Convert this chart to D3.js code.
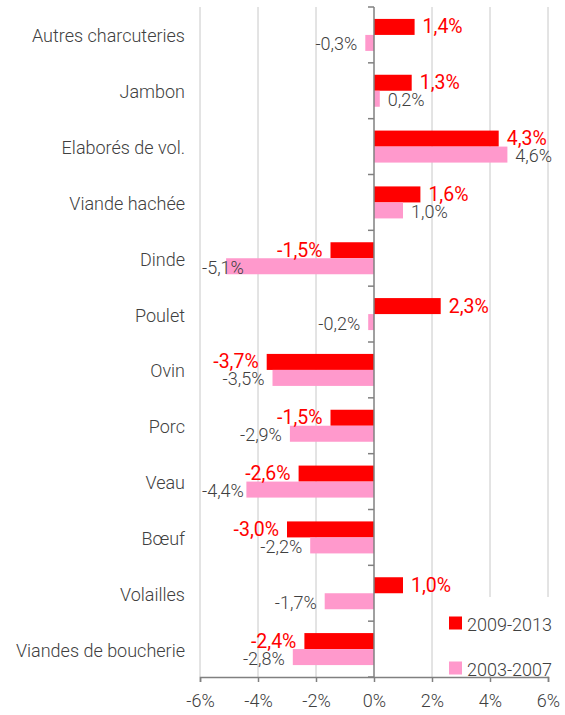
<!DOCTYPE html>
<html><head><meta charset="utf-8">
<script src="https://cdn.jsdelivr.net/npm/d3@7"></script>
<style>
body{margin:0;background:#fff;}
text{font-family:Roboto, "Noto Sans", sans-serif;font-weight:300;}
</style></head>
<body><svg id="c" width="565" height="715"></svg>
<script>
const categories = ["Autres charcuteries","Jambon","Elaborés de vol.","Viande hachée","Dinde","Poulet","Ovin","Porc","Veau","Bœuf","Volailles","Viandes de boucherie"];
const series2009 = [1.4,1.3,4.3,1.6,-1.5,2.3,-3.7,-1.5,-2.6,-3.0,1.0,-2.4];
const series2003 = [-0.3,0.2,4.6,1.0,-5.1,-0.2,-3.5,-2.9,-4.4,-2.2,-1.7,-2.8];
const seriesNames = ["2009-2013","2003-2007"];
const xTicks = [-6,-4,-2,0,2,4,6];

const svg = d3.select("#c");
const L=200, R=548, T=7, B=677;
const x = d3.scaleLinear().domain([-6,6]).range([L,R]);
const y = d3.scaleBand().domain(categories).range([T,B]);
const bw = 16;
const fmt = v => d3.format(".1f")(v).replace(".",",").replace("−","-")+"%";

// gridlines
svg.append("g").selectAll("line").data(xTicks.filter(d=>d!==0)).join("line")
  .attr("x1",d=>x(d)).attr("x2",d=>x(d)).attr("y1",T).attr("y2",B)
  .attr("stroke","#c8c8c8").attr("stroke-width",1);

// legend background (hides gridlines)
svg.append("rect").attr("x",440).attr("y",597).attr("width",125).attr("height",B-597-1).attr("fill","#fff");

// bars
const rows = categories.map((c,i)=>({c, a:series2009[i], b:series2003[i]}));
const g = svg.append("g");
g.selectAll(".ra").data(rows).join("rect")
  .attr("x",d=>x(Math.min(0,d.a))).attr("width",d=>Math.abs(x(d.a)-x(0)))
  .attr("y",d=>y(d.c)+y.bandwidth()/2-bw).attr("height",bw).attr("fill","#ff0000");
g.selectAll(".rb").data(rows).join("rect")
  .attr("x",d=>x(Math.min(0,d.b))).attr("width",d=>Math.abs(x(d.b)-x(0)))
  .attr("y",d=>y(d.c)+y.bandwidth()/2).attr("height",bw).attr("fill","#ff99cc");

// labels
function labels(key, off, color, size, weight){
  const sel = svg.append("g").selectAll("text").data(rows).join("text")
    .attr("y",d=>y(d.c)+y.bandwidth()/2+off)
    .attr("dominant-baseline","central")
    .attr("fill",color).attr("font-size",size).style("font-weight",weight)
    .text(d=>fmt(d[key]));
  sel.each(function(d){
    const v=d[key]; const w=this.getComputedTextLength();
    let xs = v>=0 ? x(v)+8 : x(v)-8-w;
    if (xs < L+2) xs = L+2;
    if (xs + w > R+4) xs = R+4-w;
    d3.select(this).attr("x",xs);
  });
}
labels("a",-bw/2,"#ff0000",19.5,400);
labels("b",bw/2+1,"#404040",18,300);

// zero axis
svg.append("line").attr("x1",x(0)).attr("x2",x(0)).attr("y1",T).attr("y2",B)
  .attr("stroke","#808080").attr("stroke-width",1.5);
const bounds = categories.map(c=>y(c)).concat([B]);
svg.append("g").selectAll("line").data(bounds).join("line")
  .attr("x1",x(0)-6).attr("x2",x(0)).attr("y1",d=>d).attr("y2",d=>d)
  .attr("stroke","#808080").attr("stroke-width",1.5);

// bottom axis
const xa = svg.append("g").attr("transform",`translate(0,${B})`)
  .call(d3.axisBottom(x).tickValues(xTicks).tickSize(5).tickPadding(12).tickFormat(d=>d+"%"));
xa.select(".domain").attr("stroke","#808080").attr("stroke-width",1.5);
xa.selectAll(".tick line").attr("stroke","#808080").attr("stroke-width",1.5);
xa.selectAll(".tick text").attr("font-size",18).attr("fill","#404040")
  .attr("font-family","Roboto, sans-serif").style("font-weight",300);

// category labels
svg.append("g").selectAll("text").data(categories).join("text")
  .attr("x",185).attr("y",c=>y(c)+y.bandwidth()/2+1)
  .attr("text-anchor","end").attr("dominant-baseline","central")
  .attr("font-size",18).attr("fill","#404040").text(c=>c);

// legend
const lg = svg.append("g");
const colors = ["#ff0000","#ff99cc"];
seriesNames.forEach((n,i)=>{
  const yy = 623 + i*45;
  lg.append("rect").attr("x",449).attr("y",yy-6.5).attr("width",13).attr("height",13).attr("fill",colors[i]);
  lg.append("text").attr("x",467).attr("y",yy+1).attr("dominant-baseline","central")
    .attr("font-size",18).attr("fill","#404040").text(n);
});
</script></body></html>
